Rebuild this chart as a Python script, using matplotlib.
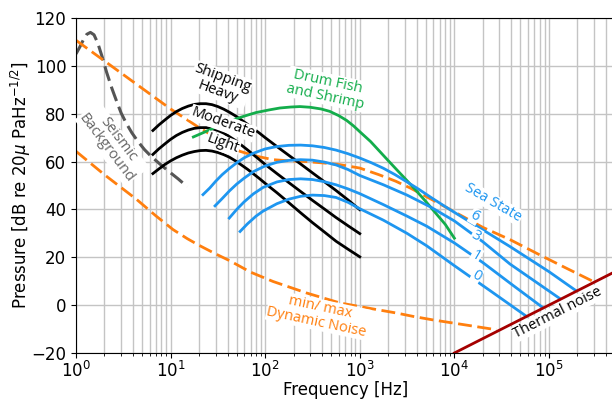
import matplotlib
matplotlib.use('Agg')
import matplotlib.pyplot as plt

# values (frequency in Hz, level in dB)
seismic_f = [1, 1.1, 1.2, 1.3, 1.42, 1.55, 1.7, 1.9, 2.1, 2.4, 2.7, 3.0, 3.4, 3.9, 4.5, 5.3, 6.3, 7.7, 9.5, 12, 15]
seismic_db = [105, 108, 111, 113.2, 114, 113, 109.5, 103.5, 97.5, 90.5, 85, 80.3, 76, 72, 68.5, 65, 62, 59, 56, 52.8, 49.5]

nmax_f = [1, 3, 10, 20, 35, 54, 80, 121, 200, 273, 450, 620, 1000, 1600, 2400, 3400,
          6000, 10000, 20000, 38700, 80000, 150000, 294000]
nmax_db = [110.7, 97, 82, 74.2, 68.5, 64.3, 62.3, 60.8, 60.2, 60.0, 59.3, 58.7, 57.3,
           54.5, 51.8, 49, 43.8, 39, 32.5, 27.4, 21, 15.6, 9.9]

nmin_f = [1, 2, 4.4, 7, 10.6, 15, 20, 30, 42.5, 70, 121, 273, 620, 1390, 2450, 3660, 6000, 12300, 28000]
nmin_db = [64.3, 54.5, 44.1, 37.3, 31.6, 27.8, 25, 21.4, 18.5, 13.8, 9.9, 5.1, 0.9, -1.6, -3.3, -4.7, -6.2, -8.1, -10.3]

ship_f = [6.5, 7.5, 8.7, 10, 11.5, 13.3, 15.4, 17.8, 20.5, 23.7, 27.4, 31.6, 36.5, 42, 49, 56,
          65, 75, 87, 100, 133, 178, 237, 316, 422, 562, 750, 1000]
heavy_db = [73, 75.3, 77.4, 79.3, 80.9, 82.2, 83.2, 83.9, 84.2, 84.2, 83.8, 83.0, 81.9, 80.6,
            79.0, 77.4, 75.6, 73.8, 71.9, 70.0, 66.3, 62.6, 59.0, 55.3, 51.6, 47.9, 44.0, 39.9]
moderate_db = [63, 65.3, 67.4, 69.3, 70.9, 72.2, 73.2, 73.9, 74.2, 74.2, 73.8, 73.0, 71.9, 70.4,
               68.7, 66.9, 64.9, 62.9, 60.8, 58.8, 55, 51.2, 47.5, 43.8, 40.2, 36.6, 33.2, 29.9]
light_db = [55, 56.9, 58.8, 60.3, 61.6, 62.7, 63.6, 64.2, 64.6, 64.7, 64.4, 63.8, 62.9, 61.8,
            60.2, 58.6, 56.8, 54.9, 52.9, 50.9, 47, 42.8, 38.6, 34.5, 30.6, 26.7, 23.4, 20.2]

fish_f = [17.4, 25, 35, 46, 60, 80, 110, 143, 185, 233, 300, 390, 481, 600, 727, 860, 1000,
          1300, 1630, 2000, 2500, 3200, 4000, 5000, 6000, 8000, 10000]
fish_db = [70.3, 73, 75.6, 77.5, 79, 80.5, 81.6, 82.4, 82.8, 83, 82.7, 82, 81, 79.2, 77.2,
           74.9, 72.5, 68.4, 64.2, 60.4, 56.3, 51.8, 47.6, 43.3, 39.6, 33.8, 28]

sea6_f = [22, 26, 30, 35, 42, 50, 60, 75, 100, 133, 178, 237, 316, 422, 562, 750, 1000,
          1330, 1780, 2370, 3160, 4220, 5620, 7500, 10000, 38700, 100000, 191000]
sea6_db = [46.2, 49, 51.8, 54.5, 57.2, 59.5, 61.6, 63.5, 65.3, 66.3, 66.8, 66.9, 66.6, 65.9,
           64.8, 63.3, 61.5, 59.5, 57.2, 54.5, 51.5, 48.4, 45.1, 41.9, 38.8, 24.5, 14, 6.2]
sea3_f = [29.5, 35, 42, 50, 60, 75, 100, 133, 178, 237, 316, 422, 562, 750, 1000, 1780, 3160,
          5620, 10000, 20000, 38700, 131000]
sea3_db = [41.5, 44.5, 47.8, 50.6, 53.1, 55.8, 58.2, 59.7, 60.5, 60.8, 60.6, 59.8, 58.6, 56.7,
           54.2, 50.3, 46, 41, 35.2, 26.5, 17.2, 2.7]
sea1_f = [41.7, 50, 60, 75, 95, 133, 178, 237, 316, 422, 562, 750, 1000, 1780, 3160, 5100,
          10000, 20000, 40000, 86000]
sea1_db = [36.4, 40, 43.2, 46.5, 49.2, 51.5, 52.5, 52.8, 52.5, 51.6, 50.3, 48.6, 46.6, 42, 37.2,
           33, 26, 17.8, 8.8, -1]
sea0_f = [54.3, 65, 80, 95, 133, 178, 237, 316, 422, 562, 750, 1000, 1780, 3160, 5100, 10000,
          25000, 58000]
sea0_db = [30.8, 34, 37.2, 39.3, 42.4, 44.3, 45.5, 46, 45.8, 45, 43, 40.3, 35.5, 30, 24.8,
           16.5, 5.5, -4.7]

thermal_f = [1e4, 5e5]
thermal_db = [-20, 14]

orange = '#ff7f0e'
blue = '#1e96f0'
green = '#13ad4b'
gray = '#555555'
red = '#a50000'
lab_font = 'Open Sans'

fig = plt.figure(figsize=(6.12, 4.01), dpi=100)
ax = fig.add_axes([0.1242, 0.1197, 1.005 - 0.1242, 0.955 - 0.1197])

lw = 2.0
ax.plot(seismic_f, seismic_db, color=gray, lw=2.2, dashes=(5, 2))
ax.plot(nmax_f, nmax_db, color=orange, lw=lw, dashes=(5, 2))
ax.plot(nmin_f, nmin_db, color=orange, lw=lw, dashes=(5, 2))
for db in (heavy_db, moderate_db, light_db):
    ax.plot(ship_f, db, color='black', lw=lw)
ax.plot(fish_f, fish_db, color=green, lw=lw)
ax.plot(sea6_f, sea6_db, color=blue, lw=lw)
ax.plot(sea3_f, sea3_db, color=blue, lw=lw)
ax.plot(sea1_f, sea1_db, color=blue, lw=lw)
ax.plot(sea0_f, sea0_db, color=blue, lw=lw)
ax.plot(thermal_f, thermal_db, color=red, lw=lw)

ax.set_xscale('log')
ax.set_xlim(1, 5e5)
ax.set_ylim(-20, 120)
ax.set_yticks(range(-20, 121, 20))
ax.grid(True, which='major', color='#c4c4c4', lw=1.0)
ax.grid(True, which='minor', axis='x', color='#c4c4c4', lw=1.0)
ax.set_axisbelow(True)
ax.tick_params(labelsize=12)
ax.tick_params(axis='x', pad=2)
ax.set_xlabel('Frequency [Hz]', fontsize=12, labelpad=0)
ax.set_ylabel(r'Pressure [dB re 20$\mu$ PaHz$^{-1/2}$]', fontsize=12, labelpad=-1)

box = dict(facecolor='white', edgecolor='none', pad=0.5)
def label(x, y, s, rot, color, size=10.5):
    ax.text(x, y, s, rotation=rot, color=color, fontsize=size, family=lab_font,
            ha='center', va='center', ma='center', bbox=box, zorder=5,
            rotation_mode='anchor', linespacing=1.0)

label(33.3, 92.1, 'Shipping\nHeavy', -20, 'black')
label(35.6, 76.1, 'Moderate', -20, 'black')
label(35.6, 67.4, 'Light', -20, 'black')
label(447, 90.3, 'Drum Fish\nand Shrimp', -12, green)
label(2.4, 67.5, 'Seismic\nBackground', -53, '#666666')
label(2.58e4, 42.7, 'Sea State', -30, blue)
label(1.65e4, 37.1, '6', -30, blue)
label(1.7e4, 28.8, '3', -30, blue)
label(1.7e4, 20.7, '1', -30, blue)
label(1.72e4, 12.3, '0', -30, blue)
label(364, -4, 'min/ max\nDynamic Noise', -12, orange)
label(1.24e5, -3.3, 'Thermal noise', 27, 'black')

fig.savefig('out.png', dpi=100)
